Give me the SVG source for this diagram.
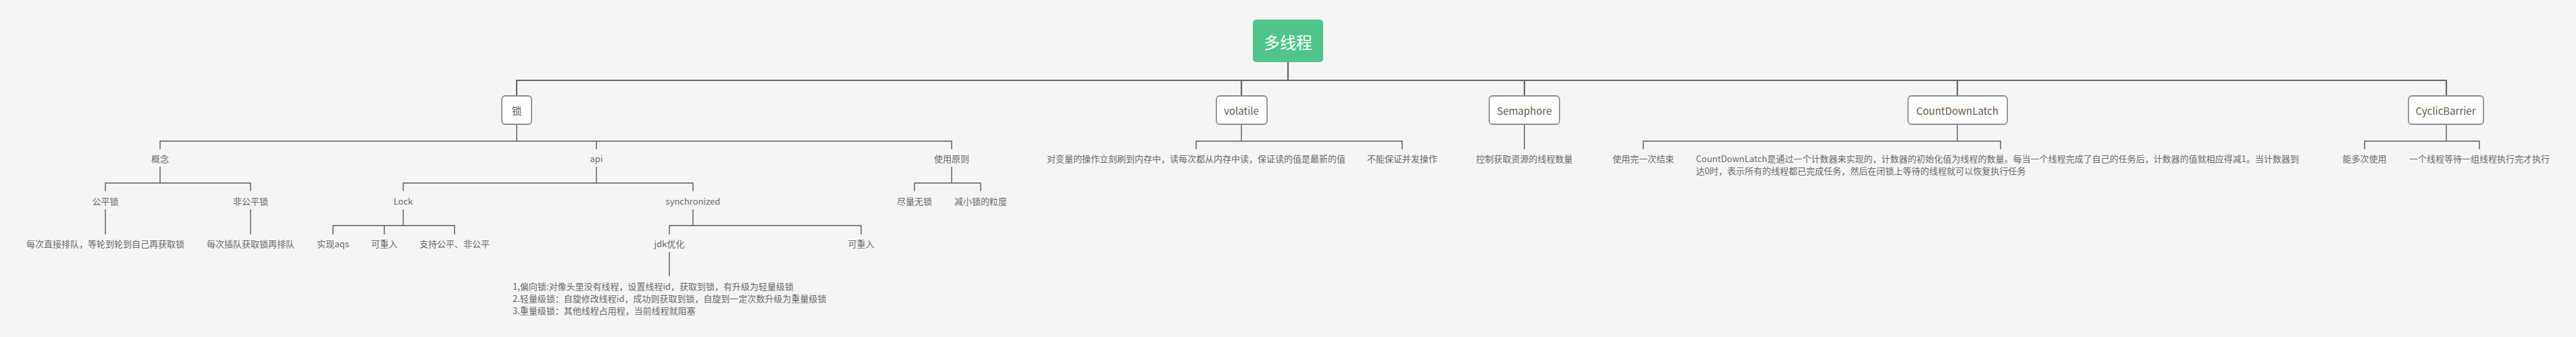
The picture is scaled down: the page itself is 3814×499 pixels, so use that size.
<svg xmlns="http://www.w3.org/2000/svg" width="3814" height="499" viewBox="0 0 3814 499">
<style>
text{font-family:"Noto Sans CJK SC","Noto Sans",sans-serif;dominant-baseline:central}
.root{fill:#50c48b}
.rt{fill:#ffffff;font-size:24px;text-anchor:middle}
.box{fill:#ffffff;stroke:#8f8f8f;stroke-width:1.8}
.bt{fill:#6e5a4a;font-size:15px;text-anchor:middle}
.lt{fill:#6a6a6a;font-size:13px;text-anchor:middle}
.ll{fill:#6a6a6a;font-size:13px;text-anchor:start}
.c0{fill:none;stroke:#666666;stroke-width:2.2}
.c1{fill:none;stroke:#5a5a5a;stroke-width:1.4}
</style>
<rect width="3814" height="499" fill="#f5f5f5"/>
<g id="connectors">
<path class="c0" d="M1907 92V119M765 142V119H3622V142M1838 119V142M2257 119V142M2898 119V142"/>
<path class="c1" d="M765 184V209M237 221V209H1409V221M883 209V221"/>
<path class="c1" d="M1838 184V209M1771 221V209H2076V221"/>
<path class="c1" d="M2257 184V221"/>
<path class="c1" d="M2898 184V209M2433 221V209H2962V221"/>
<path class="c1" d="M3622 184V209M3501 221V209H3671V221"/>
<path class="c1" d="M237 247V271M156 283V271H371V283"/>
<path class="c1" d="M883 247V271M597 283V271H1026V283"/>
<path class="c1" d="M1409 247V271M1354 283V271H1452V283"/>
<path class="c1" d="M156 310V347M371 310V347"/>
<path class="c1" d="M597 310V334M493 347V334H673V347M569 334V347"/>
<path class="c1" d="M1026 310V334M991 347V334H1275V347"/>
<path class="c1" d="M991 373V409"/>
</g>
<g id="root"><rect class="root" x="1855" y="29" width="104" height="63" rx="5"/><text class="rt" x="1907" y="61">多线程</text></g>
<g id="n-lock"><rect class="box" x="743" y="142" width="44" height="42" rx="5"/><text class="bt" x="765" y="163">锁</text></g>
<g id="n-volatile"><rect class="box" x="1801" y="142" width="75" height="42" rx="5"/><text class="bt" x="1838" y="163">volatile</text></g>
<g id="n-semaphore"><rect class="box" x="2205" y="142" width="104" height="42" rx="5"/><text class="bt" x="2257" y="163">Semaphore</text></g>
<g id="n-cdl"><rect class="box" x="2825" y="142" width="147" height="42" rx="5"/><text class="bt" x="2898" y="163">CountDownLatch</text></g>
<g id="n-cb"><rect class="box" x="3566" y="142" width="111" height="42" rx="5"/><text class="bt" x="3621" y="163">CyclicBarrier</text></g>
<g id="n-gainian"><text class="lt" x="237" y="234">概念</text></g>
<g id="n-api"><text class="lt" x="883" y="234">api</text></g>
<g id="n-yuanze"><text class="lt" x="1409" y="234">使用原则</text></g>
<g id="n-gongping"><text class="lt" x="156" y="297">公平锁</text></g>
<g id="n-feigongping"><text class="lt" x="371" y="297">非公平锁</text></g>
<g id="n-Lock"><text class="lt" x="597" y="297">Lock</text></g>
<g id="n-sync"><text class="lt" x="1026" y="297">synchronized</text></g>
<g id="n-wusuo"><text class="lt" x="1354" y="297">尽量无锁</text></g>
<g id="n-lidu"><text class="lt" x="1452" y="297">减小锁的粒度</text></g>
<g id="n-gp-desc"><text class="lt" x="156" y="360">每次直接排队，等轮到轮到自己再获取锁</text></g>
<g id="n-fgp-desc"><text class="lt" x="371" y="360">每次插队获取锁再排队</text></g>
<g id="n-aqs"><text class="lt" x="493" y="360">实现aqs</text></g>
<g id="n-kcr1"><text class="lt" x="569" y="360">可重入</text></g>
<g id="n-zhichi"><text class="lt" x="673" y="360">支持公平、非公平</text></g>
<g id="n-jdk"><text class="lt" x="991" y="360">jdk优化</text></g>
<g id="n-kcr2"><text class="lt" x="1275" y="360">可重入</text></g>
<g id="n-jdk-desc"><text class="ll" x="759" y="423">1,偏向锁:对像头里没有线程，设置线程id，获取到锁，有升级为轻量级锁</text><text class="ll" x="759" y="441">2.轻量级锁：自旋修改线程id，成功则获取到锁，自旋到一定次数升级为重量级锁</text><text class="ll" x="759" y="459">3.重量级锁：其他线程占用程，当前线程就阻塞</text></g>
<g id="n-vol1"><text class="lt" x="1771" y="234">对变量的操作立刻刷到内存中，读每次都从内存中读，保证读的值是最新的值</text></g>
<g id="n-vol2"><text class="lt" x="2076" y="234">不能保证并发操作</text></g>
<g id="n-sem1"><text class="lt" x="2257" y="234">控制获取资源的线程数量</text></g>
<g id="n-cdl1"><text class="lt" x="2433" y="234">使用完一次结束</text></g>
<g id="n-cdl2"><text class="ll" x="2511" y="234">CountDownLatch是通过一个计数器来实现的，计数器的初始化值为线程的数量。每当一个线程完成了自己的任务后，计数器的值就相应得减1。当计数器到</text><text class="ll" x="2511" y="252">达0时，表示所有的线程都已完成任务，然后在闭锁上等待的线程就可以恢复执行任务</text></g>
<g id="n-cb1"><text class="lt" x="3501" y="234">能多次使用</text></g>
<g id="n-cb2"><text class="lt" x="3671" y="234">一个线程等待一组线程执行完才执行</text></g>
</svg>
